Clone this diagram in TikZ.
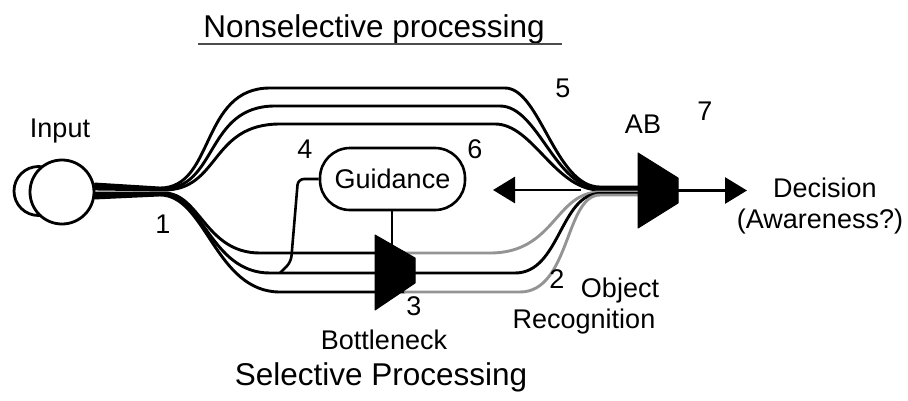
\documentclass[tikz,border=0pt]{standalone}
\usepackage{fontspec}
\setmainfont{Liberation Sans}
\usetikzlibrary{arrows.meta}
\definecolor{lg}{gray}{0.58}
\begin{document}
\begin{tikzpicture}[x=1pt,y=-1pt,
  wire/.style={line width=2.9pt, line cap=round},
  gwire/.style={line width=2.9pt, draw=lg, line cap=round},
  lbl/.style={font=\fontsize{27}{30}\selectfont, inner sep=0pt, anchor=base},
  ttl/.style={font=\fontsize{31.5}{34}\selectfont, inner sep=0pt, anchor=base},
  gate/.style={fill=black, draw=black, line width=1pt, line join=round},
  bigarrow/.style={line width=2.9pt, -{Triangle[length=22pt,width=26pt]}}
]
\path[use as bounding box] (0,0) rectangle (908,400);

% titles
\node[ttl] (t1) at (374,37) {Nonselective processing};
\draw[line width=1.8pt, black!70] (198,44) -- (562,44);
\node[ttl] (t2) at (381,385) {Selective Processing};

% upper bundle (nonselective)
\draw[wire] (95,184) -- (160,188) .. controls (215,188) and (200,88) .. (270,88) -- (505,88) .. controls (540,88) and (555,187) .. (600,187) -- (640,187);
\draw[wire] (95,186.5) -- (162,189) .. controls (218,189) and (205,106) .. (275,106) -- (500,106) .. controls (538,106) and (555,188.5) .. (600,188.5) -- (640,188.5);
\draw[wire] (95,189) -- (164,190) .. controls (220,190) and (210,124) .. (280,124) -- (495,124) .. controls (533,124) and (555,190) .. (600,190) -- (640,190);

% lower bundle (selective)
\draw[wire] (95,193) -- (164,193) .. controls (200,193) and (205,253) .. (260,253) -- (405,253);
\draw[gwire] (405,253) -- (490,253) .. controls (555,253) and (555,192) .. (600,192) -- (640,192);
\draw[wire] (95,195.5) -- (162,194) .. controls (203,194) and (210,273) .. (270,273) -- (515,273) .. controls (560,273) and (560,193.5) .. (600,193.5) -- (640,193.5);
\draw[wire] (95,198) -- (160,195) .. controls (206,195) and (215,292) .. (280,292) -- (405,292);
\draw[gwire] (405,292) -- (520,292) .. controls (570,292) and (565,195) .. (600,195) -- (640,195);

% input
\draw[line width=2.8pt, fill=white] (38.5,191) circle[radius=24.5];
\node[circle, draw, line width=2.8pt, fill=white, minimum size=64pt, inner sep=0pt] (input) at (62,192) {};
\node[lbl] (inlbl) at (60,137) {Input};

% gates
\fill[gate] (375,235) -- (415,258) -- (415,283) -- (375,310) -- cycle;
\coordinate (bntop) at (392,245);
\fill[gate] (638,153) -- (678,178) -- (678,203) -- (638,228) -- cycle;
\coordinate (abE) at (678,190.5);
\coordinate (dec) at (747,190.5);

% guidance
\node[draw, line width=2.6pt, rounded corners=30pt, minimum width=145pt, minimum height=62pt, inner sep=0pt,
      font=\fontsize{27}{30}\selectfont] (guid) at (392.5,179) {Guidance};
\coordinate (gj) at (280,273);
\draw[line width=2.6pt, rounded corners=6pt] (guid.west) -- (298,179) -- (291,262) -- (gj);
\draw[line width=2.6pt] (guid.south -| bntop) -- (bntop);

% arrows
\coordinate (fbs) at (581,190);
\coordinate (fbt) at (493,190);
\draw[bigarrow] (fbs) -- (fbt);
\draw[bigarrow] (abE) -- (dec);

% labels
\node[lbl] at (163,233) {1};
\node[lbl] at (305,158) {4};
\node[lbl] at (475,158) {6};
\node[lbl] at (563,97) {5};
\node[lbl] at (643,133) {AB};
\node[lbl] at (705,120) {7};
\node[lbl] at (825,197) {Decision};
\node[lbl] at (820,228) {(Awareness?)};
\node[lbl] at (414,315) {3};
\node[lbl] at (557,288) {2};
\node[lbl] at (620,297) {Object};
\node[lbl] at (584,328) {Recognition};
\node[lbl] at (384,349) {Bottleneck};
\end{tikzpicture}
\end{document}
